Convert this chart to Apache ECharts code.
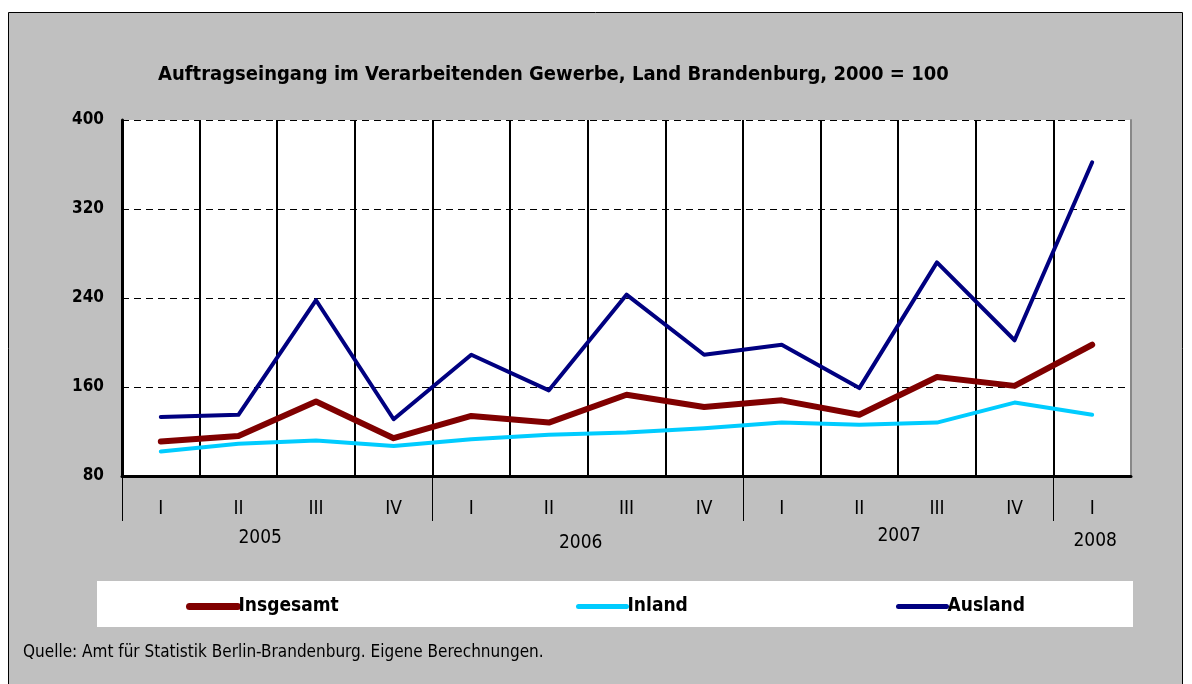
<!DOCTYPE html>
<html>
<head>
<meta charset="utf-8">
<script src="https://cdn.jsdelivr.net/npm/echarts@6/dist/echarts.min.js"></script>
<style>
  html, body { margin: 0; padding: 0; background: #fff; }
  #main { width: 1192px; height: 684px; }
</style>
</head>
<body>
<div id="main"></div>
<script>
// Quartale 2005 I bis 2008 I
const quarters = ['I', 'II', 'III', 'IV', 'I', 'II', 'III', 'IV', 'I', 'II', 'III', 'IV', 'I'];
const years = ['2005', '2006', '2007', '2008'];
const yearStart = [0, 4, 8, 12];   // erste Kategorie je Jahr
const yearEnd = [3, 7, 11, 12];    // letzte Kategorie je Jahr

const insgesamt = [111, 116, 147, 114, 134, 128, 153, 142, 148, 135, 169, 161, 198];
const inland = [102, 109, 112, 107, 113, 117, 119, 123, 128, 126, 128, 146, 135];
const ausland = [133, 135, 238, 131, 189, 157, 243, 189, 198, 159, 272, 202, 362];

const yTicks = [80, 160, 240, 320, 400];

const FONT = "'Liberation Sans Narrow', 'DejaVu Sans Condensed', 'Liberation Sans', sans-serif";

var myChart = echarts.init(document.getElementById('main'));

function legendAt(name, left, color, width) {
  return {
    data: [name], left: left, top: 592,
    itemWidth: 48, itemHeight: 14, itemGap: 5,
    itemStyle: { color: 'transparent', borderWidth: 0 },
    lineStyle: { width: width, color: color, cap: 'round' },
    textStyle: { fontFamily: FONT, fontSize: 19, fontWeight: 'bold', color: '#000', padding: [0, 0, 0, -4] }
  };
}

const option = {
  backgroundColor: '#ffffff',
  animation: false,
  textStyle: { fontFamily: FONT, color: '#000' },
  title: {
    text: 'Auftragseingang im Verarbeitenden Gewerbe, Land Brandenburg, 2000 = 100',
    left: 153,
    top: 60,
    textStyle: { fontFamily: FONT, fontSize: 20, fontWeight: 'bold', color: '#000' }
  },
  grid: {
    left: 122, right: 61, top: 120, bottom: 208,
    show: true, backgroundColor: '#ffffff', borderWidth: 0
  },
  legend: [
    legendAt('Insgesamt', 181, '#800000', 7),
    legendAt('Inland', 571, '#00CCFF', 5),
    legendAt('Ausland', 891, '#000080', 5)
  ],
  xAxis: {
    type: 'category',
    data: quarters,
    boundaryGap: true,
    axisLine: { lineStyle: { color: '#000', width: 3 } },
    axisTick: { show: false },
    axisLabel: {
      interval: 0, margin: 24,
      fontFamily: FONT, fontSize: 19, color: '#000'
    },
    splitLine: { show: true, interval: 0, lineStyle: { color: '#000', width: 2 } }
  },
  yAxis: [{
    type: 'value',
    min: yTicks[0], max: yTicks[yTicks.length - 1], interval: 80,
    axisLine: { show: true, lineStyle: { color: '#000', width: 3 } },
    axisTick: { show: false },
    axisLabel: { margin: 18, fontFamily: FONT, fontSize: 17, fontWeight: 'bold', color: '#000' },
    splitLine: { show: true, lineStyle: { color: '#000', width: 1, type: [7, 5] } }
  }, {
    type: 'value', position: 'right',
    min: yTicks[0], max: yTicks[yTicks.length - 1], interval: 80,
    axisLine: { show: true, lineStyle: { color: '#888', width: 2 } },
    axisTick: { show: false }, axisLabel: { show: false }, splitLine: { show: false }
  }],
  series: [
    { name: 'Insgesamt', type: 'line', data: insgesamt, symbol: 'none', z: 4,
      color: '#800000', lineStyle: { width: 6, color: '#800000', cap: 'round', join: 'round' } },
    { name: 'Inland', type: 'line', data: inland, symbol: 'none', z: 3,
      color: '#00CCFF', lineStyle: { width: 4, color: '#00CCFF', cap: 'round', join: 'round' } },
    { name: 'Ausland', type: 'line', data: ausland, symbol: 'none', z: 3,
      color: '#000080', lineStyle: { width: 4, color: '#000080', cap: 'round', join: 'round' } }
  ]
};

myChart.setOption(option);

// Rahmen, Legendenkasten, Quelle, Jahrestrenner und Jahresbeschriftungen
const yearDx = [-17, -7, 1, 3];
const yearDy = [0, 5, -2, 3];
const graphics = [
  { type: 'rect', z: -10, silent: true,
    shape: { x: 8.5, y: 12.5, width: 1174, height: 680 },
    style: { fill: '#C0C0C0', stroke: '#000', lineWidth: 1 } },
  { type: 'rect', z: -5, silent: true,
    shape: { x: 97, y: 581, width: 1036, height: 46 },
    style: { fill: '#ffffff' } },
  { type: 'text', left: 23, top: 644, silent: true,
    style: { text: 'Quelle: Amt für Statistik Berlin-Brandenburg. Eigene Berechnungen.',
      font: '17px ' + FONT, fill: '#000' } }
];
const band = myChart.convertToPixel({ xAxisIndex: 0 }, 1) - myChart.convertToPixel({ xAxisIndex: 0 }, 0);
const axisY = myChart.convertToPixel({ yAxisIndex: 0 }, yTicks[0]);
years.forEach((y, k) => {
  const x0 = myChart.convertToPixel({ xAxisIndex: 0 }, yearStart[k]);
  const x1 = myChart.convertToPixel({ xAxisIndex: 0 }, yearEnd[k]);
  const sx = Math.round(x0 - band / 2) + 0.5;
  graphics.push({
    type: 'line', silent: true, z: 5,
    shape: { x1: sx, y1: axisY, x2: sx, y2: axisY + 45 },
    style: { stroke: '#000', lineWidth: 1 }
  });
  graphics.push({
    type: 'text', silent: true,
    x: (x0 + x1) / 2 + yearDx[k], y: 538 + yearDy[k],
    style: { text: y, font: '19px ' + FONT, fill: '#000', align: 'center', verticalAlign: 'middle' }
  });
});
myChart.setOption({ graphic: graphics });

window.addEventListener('resize', function () {
  myChart.resize();
});
</script>
</body>
</html>
